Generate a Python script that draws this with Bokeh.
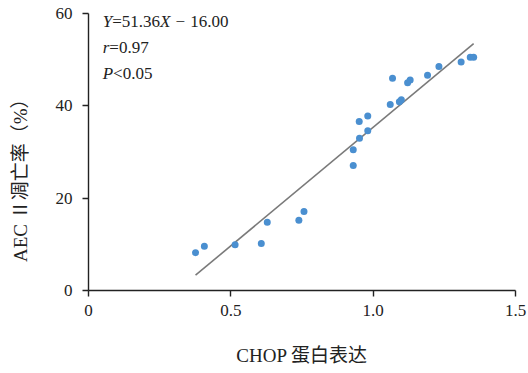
from bokeh.plotting import figure
from bokeh.models import Range1d, Label, FixedTicker, ColumnDataSource
from bokeh.embed import file_html
from bokeh.resources import INLINE

# data
chop = [0.376, 0.407, 0.515, 0.607, 0.628, 0.739, 0.757, 0.930, 0.930, 0.952,
        0.951, 0.981, 0.981, 1.060, 1.068, 1.092, 1.099, 1.121, 1.130, 1.191,
        1.231, 1.309, 1.341, 1.353]
apoptosis = [8.2, 9.6, 9.9, 10.2, 14.8, 15.2, 17.1, 27.1, 30.5, 33.0,
             36.6, 34.6, 37.8, 40.3, 46.0, 40.9, 41.3, 45.0, 45.6, 46.6,
             48.5, 49.5, 50.5, 50.5]
slope = 51.36
intercept = -16.00
x_ticks = [0, 0.5, 1.0, 1.5]
x_tick_labels = {0: "0", 0.5: "0.5", 1: "1.0", 1.5: "1.5"}
y_ticks = [0, 20, 40, 60]
x_title = "CHOP 蛋白表达"
y_title = "AEC Ⅱ凋亡率（%）"

SERIF = "Liberation Serif, Noto Sans CJK SC"
INK = "#222222"

p = figure(width=528, height=373, output_backend="svg", toolbar_location=None,
           x_range=Range1d(0, 1.5), y_range=Range1d(0, 60),
           min_border_left=88, min_border_right=13, min_border_top=13,
           min_border_bottom=83)
p.outline_line_color = None
p.xgrid.visible = False
p.ygrid.visible = False
p.background_fill_color = "white"

fit_x = [min(chop), max(chop)]
fit_y = [slope * v + intercept for v in fit_x]
p.line(fit_x, fit_y, line_color="#7a7a7a", line_width=1.6)

src = ColumnDataSource(dict(x=chop, y=apoptosis))
p.scatter("x", "y", source=src, size=7, fill_color="#4a8fd0", line_color=None)

for ax in (p.xaxis[0], p.yaxis[0]):
    ax.axis_line_color = INK
    ax.axis_line_width = 1.4
    ax.major_tick_line_color = INK
    ax.major_tick_line_width = 1.4
    ax.major_tick_in = 0
    ax.major_tick_out = 6
    ax.minor_tick_line_color = None
    ax.major_label_text_font = SERIF
    ax.major_label_text_font_size = "17px"
    ax.major_label_text_color = INK
    ax.axis_label_text_font = SERIF
    ax.axis_label_text_font_size = "19px"
    ax.axis_label_text_font_style = "normal"
    ax.axis_label_text_color = INK

p.xaxis.ticker = FixedTicker(ticks=x_ticks)
p.xaxis.major_label_overrides = x_tick_labels
p.yaxis.ticker = FixedTicker(ticks=y_ticks)
p.xaxis.axis_label = x_title
# trailing ideographic spaces push the title lower, as in the original
p.yaxis.axis_label = y_title + "\u3000\u3000\u3000"
p.xaxis.major_label_standoff = 8
p.yaxis.major_label_standoff = 10
p.xaxis.axis_label_standoff = 26
p.yaxis.axis_label_standoff = 22

# annotation text
fs = 17
ax0 = 0.05
rows = [58.3, 52.6, 47.1]
pieces = [
    (rows[0], 0.0, "Y", "italic"),
    (rows[0], 0.556 * fs, "=51.36", "normal"),
    (rows[0], (0.556 + 2.814) * fs, "X", "italic"),
    (rows[0], (0.556 + 2.814 + 0.611 + 0.3) * fs, "−", "normal"),
    (rows[0], (0.556 + 2.814 + 0.611 + 0.3 + 0.564 + 0.3) * fs, "16.00", "normal"),
    (rows[1], 0.0, "r", "italic"),
    (rows[1], 0.389 * fs, "=0.97", "normal"),
    (rows[2], 0.0, "P", "italic"),
    (rows[2], 0.611 * fs, "<0.05", "normal"),
]
for yy, off, txt, style in pieces:
    p.add_layout(Label(x=ax0, y=yy, x_offset=off, text=txt, text_font=SERIF,
                       text_font_size=f"{fs}px", text_font_style=style,
                       text_color=INK, text_baseline="middle",
                       text_align="left"))

open("out.html", "w").write(file_html(p, INLINE))
